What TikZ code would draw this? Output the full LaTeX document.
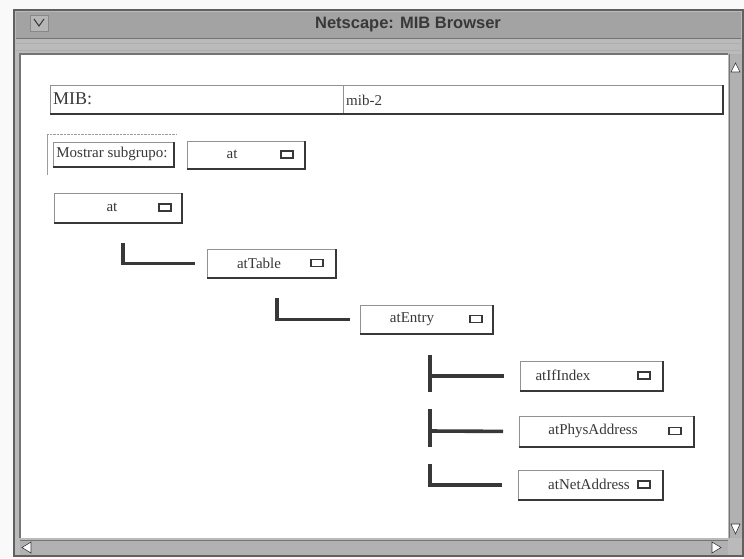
\documentclass[tikz,border=0pt]{standalone}
\usepackage{fontspec}
\setmainfont{Liberation Serif}
\setsansfont{Liberation Sans}
\usetikzlibrary{positioning}
\definecolor{chrome}{gray}{0.64}
\definecolor{ink}{gray}{0.22}
\tikzset{
  menu/.style={draw=ink!55, line width=0.8pt, fill=white, inner sep=0pt, anchor=north west},
  raised/.style={draw=ink, line width=2.4pt},
  icon/.style={draw=ink, line width=1.3pt, minimum width=12pt, minimum height=7pt, inner sep=0pt},
  tree/.style={draw=ink, line width=3.6pt},
  txt/.style={font=\fontsize{15}{17}\selectfont, inner sep=0pt, text=ink},
  arrowtip/.style={fill=white, draw=ink, line width=0.6pt},
}
\begin{document}
\begin{tikzpicture}[x=1pt,y=-1pt]
\useasboundingbox (0,0) rectangle (744,558);
\fill[white!95!gray] (0,0) rectangle (744,558);
% window frame and title bar
\draw[ink!80, fill=chrome!75, line width=1.2pt] (14,10) rectangle (743,556);
\fill[chrome] (16,12) rectangle (741,38);
\draw[ink!70, line width=1pt] (16,38) -- (741,38);
\draw[ink!40] (16,43) -- (741,43);
\draw[ink!40] (16,50) -- (741,50);
\draw[ink!60, fill=chrome!80, line width=0.8pt] (30,15) rectangle (48,31);
\draw[ink, line width=1pt] (34,19) -- (39,26) -- (44,19);
\node[font=\sffamily\bfseries\fontsize{16.5}{18}\selectfont, text=ink, inner sep=0pt] (title) at (408,25) {Netscape: MIB Browser};
% page area
\fill[white] (20,54) rectangle (728,538);
\draw[ink!70, line width=1.2pt] (20,538) -- (20,54) -- (728,54);
% scroll bars
\fill[chrome!85] (729,54) rectangle (742,538);
\draw[ink!70] (729,54) -- (729,538);
\draw[arrowtip] (731,72) -- (735.5,63) -- (740,72) -- cycle;
\draw[arrowtip] (731,524) -- (735.5,534) -- (740,524) -- cycle;
\fill[chrome!85] (20,540) rectangle (728,555);
\draw[ink!70] (20,540) -- (728,540);
\draw[arrowtip] (31,542) -- (22,547.5) -- (31,553) -- cycle;
\draw[arrowtip] (712,542) -- (721,547.5) -- (712,553) -- cycle;
% MIB field
\node[menu, minimum width=672, minimum height=28] (mib) at (50,85) {};
\draw[ink!55] (343,85) -- (343,113);
\node[txt, font=\fontsize{18}{20}\selectfont, anchor=west] (miblabel) at (53,99) {MIB:};
\node[txt, anchor=west] (mibvalue) at (346,100) {mib-2};
% subgroup selector
\draw[ink!50] (47,175) -- (47,134);
\draw[ink!50, densely dotted] (47,134) -- (177,134);
\node[menu, minimum width=120, minimum height=24] (show) at (53,142) {};
\node[txt] (show-t) at (112,154) {Mostrar subgrupo:};
\node[menu, minimum width=117, minimum height=27] (select) at (187,141) {};
\node[txt] (select-t) at (232,154.5) {at};
\node[icon] (select-i) at (287,154.5) {};
% tree of menus
\node[menu, minimum width=127, minimum height=29] (at) at (54,193) {};
\node[txt] (at-t) at (112,207.5) {at};
\node[icon] (at-i) at (165,207.5) {};
\node[menu, minimum width=128, minimum height=28] (atTable) at (207,249) {};
\node[txt] (atTable-t) at (259,263) {atTable};
\node[icon] (atTable-i) at (317,263) {};
\node[menu, minimum width=132, minimum height=28] (atEntry) at (360,305) {};
\node[txt] (atEntry-t) at (412,319) {atEntry};
\node[icon] (atEntry-i) at (476,319) {};
\node[menu, minimum width=142, minimum height=29] (atIfIndex) at (520,361) {};
\node[txt] (atIfIndex-t) at (563,375.5) {atIfIndex};
\node[icon] (atIfIndex-i) at (644,375.5) {};
\node[menu, minimum width=174, minimum height=30] (atPhysAddress) at (519,416) {};
\node[txt] (atPhysAddress-t) at (593,431) {atPhysAddress};
\node[icon] (atPhysAddress-i) at (675,431) {};
\node[menu, minimum width=144, minimum height=29] (atNetAddress) at (518,470) {};
\node[txt] (atNetAddress-t) at (589,484.5) {atNetAddress};
\node[icon] (atNetAddress-i) at (644,484.5) {};
% raised edges
\foreach \n in {mib,show,select,at,atTable,atEntry,atIfIndex,atPhysAddress,atNetAddress}
  \draw[raised] (\n.south west) -- (\n.south east) -- (\n.north east);
% connectors
\coordinate (stem1) at (123,243);
\coordinate (stem2) at (277,298);
\coordinate (stem3) at (430,355);
\draw[tree] (stem1) |- ([xshift=-12pt]atTable.west);
\draw[tree] (stem2) |- ([xshift=-10pt]atEntry.west);
\draw[tree] (stem3) -- ++(0,37);
\draw[tree] (stem3 |- atIfIndex.west) -- ([xshift=-16pt]atIfIndex.west);
\draw[tree] (430,409) -- (430,447);
\draw[tree] (430,431) -- ([xshift=-16pt]atPhysAddress.west);
\draw[tree] (430,464) |- ([xshift=-16pt]atNetAddress.west);
\end{tikzpicture}
\end{document}
